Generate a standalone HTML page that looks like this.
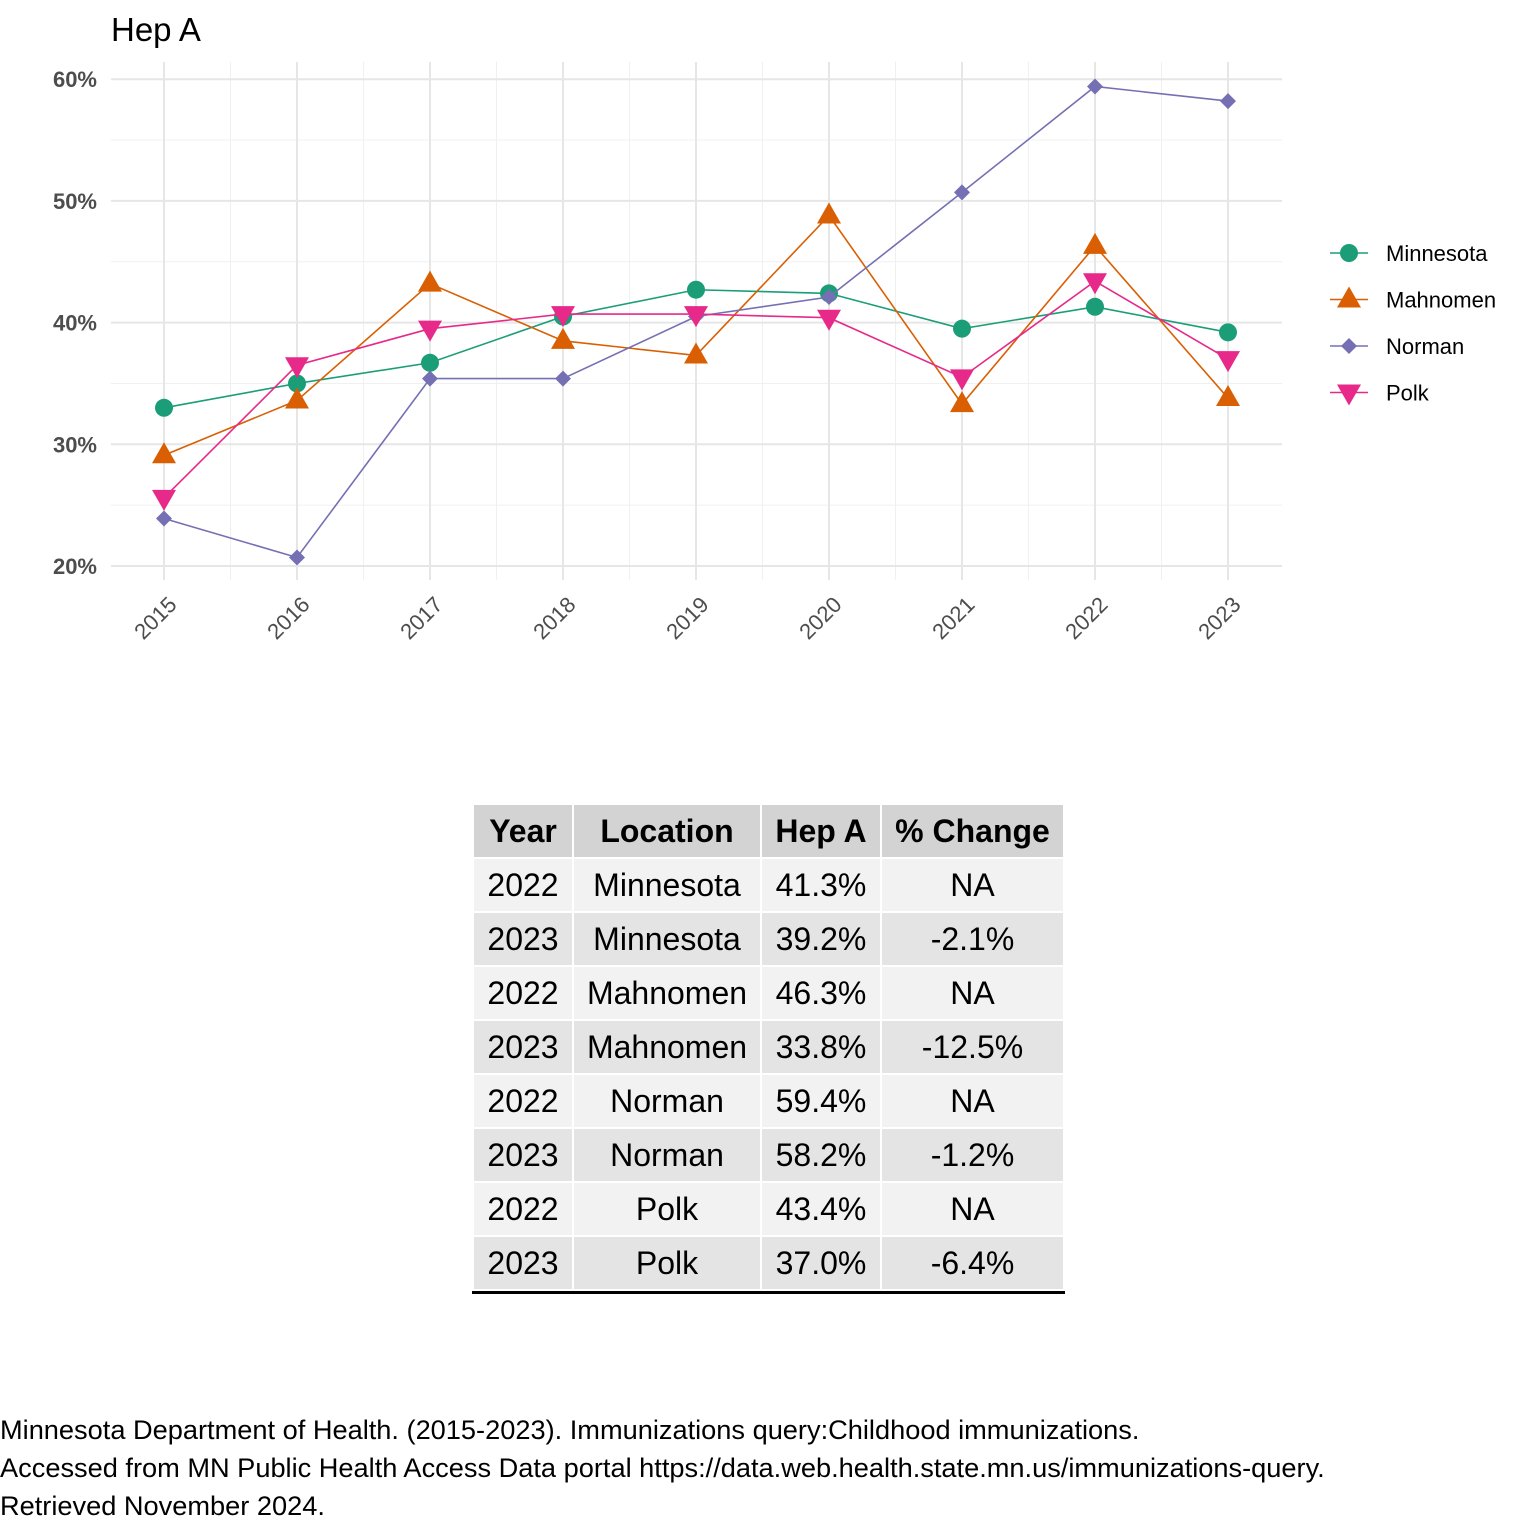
<!DOCTYPE html>
<html><head><meta charset="utf-8"><style>
body{margin:0;width:1536px;height:1536px;background:#fff;font-family:"Liberation Sans",Arial,sans-serif;position:relative;overflow:hidden}
#chart{position:absolute;left:0;top:0}
table{position:absolute;left:472px;top:803px;border-collapse:separate;border-spacing:2px 2px;font-size:32px;border-bottom:3px solid #000;table-layout:fixed}
td,th{height:52px;padding:0;text-align:center;white-space:nowrap;overflow:visible}
th{background:#d3d3d3;font-weight:bold}
tr.odd td{background:#f2f2f2}
tr.even td{background:#e4e4e4}
.foot{position:absolute;left:0;font-size:27.2px;color:#000}
</style></head><body>
<svg id="chart" width="1536" height="700"></svg>
<table>
<tr><th style="width:98px">Year</th><th style="width:186px">Location</th><th style="width:118px">Hep A</th><th style="width:181px">% Change</th></tr>
<tr class="odd"><td>2022</td><td>Minnesota</td><td>41.3%</td><td>NA</td></tr>
<tr class="even"><td>2023</td><td>Minnesota</td><td>39.2%</td><td>-2.1%</td></tr>
<tr class="odd"><td>2022</td><td>Mahnomen</td><td>46.3%</td><td>NA</td></tr>
<tr class="even"><td>2023</td><td>Mahnomen</td><td>33.8%</td><td>-12.5%</td></tr>
<tr class="odd"><td>2022</td><td>Norman</td><td>59.4%</td><td>NA</td></tr>
<tr class="even"><td>2023</td><td>Norman</td><td>58.2%</td><td>-1.2%</td></tr>
<tr class="odd"><td>2022</td><td>Polk</td><td>43.4%</td><td>NA</td></tr>
<tr class="even"><td>2023</td><td>Polk</td><td>37.0%</td><td>-6.4%</td></tr>
</table>
<div class="foot" style="top:1414px">Minnesota Department of Health. (2015-2023). Immunizations query:Childhood immunizations.</div>
<div class="foot" style="top:1452px">Accessed from MN Public Health Access Data portal https://data.web.health.state.mn.us/immunizations-query.</div>
<div class="foot" style="top:1490px">Retrieved November 2024.</div>
<script>
const years=[2015,2016,2017,2018,2019,2020,2021,2022,2023];
const yTicks=[20,30,40,50,60];
const minnesota=[33.0,35.0,36.7,40.5,42.7,42.4,39.5,41.3,39.2];
const mahnomen=[29.1,33.6,43.2,38.5,37.3,48.8,33.3,46.3,33.8];
const norman=[23.9,20.7,35.4,35.4,40.5,42.1,50.7,59.4,58.2];
const polk=[25.6,36.5,39.5,40.7,40.7,40.4,35.5,43.4,37.0];
const seriesNames=["Minnesota","Mahnomen","Norman","Polk"];
const NS="http://www.w3.org/2000/svg";
const svg=document.getElementById('chart');
const x=i=>164+i*133;
const y=v=>566-(v-20)*12.17;
function el(t,a,p){const e=document.createElementNS(NS,t);for(const k in a)e.setAttribute(k,a[k]);(p||svg).appendChild(e);return e;}
for(let v=25;v<=55;v+=10){const l=el('line',{x1:111,x2:1282,y1:y(v),y2:y(v),stroke:'#f0f0f0','stroke-width':1});}
for(let i=0;i<years.length-1;i++){const l=el('line',{x1:x(i+0.5),x2:x(i+0.5),y1:62,y2:580,stroke:'#f0f0f0','stroke-width':1});}
yTicks.forEach(v=>{const l=el('line',{x1:111,x2:1282,y1:y(v),y2:y(v),stroke:'#e6e6e6','stroke-width':2});
const t=el('text',{x:97,y:y(v)+8,'text-anchor':'end','font-size':22,'font-weight':'bold',fill:'#4d4d4d'});t.textContent=v+'%';});
years.forEach((yr,i)=>{const l=el('line',{x1:x(i),x2:x(i),y1:62,y2:580,stroke:'#e6e6e6','stroke-width':2});
const t=el('text',{x:x(i)+14,y:606,'text-anchor':'end','font-size':22,fill:'#4d4d4d',transform:`rotate(-45 ${x(i)+14} 606)`});t.textContent=yr;});
const title=el('text',{x:111,y:41,'font-size':33,fill:'#000'});title.textContent='Hep A';

const colors=['#1b9e77','#d95f02','#7570b3','#e7298a'];
const data=[minnesota,mahnomen,norman,polk];
function marker(k,cx,cy,g){
 if(k==0)return el('circle',{cx,cy,r:9,fill:colors[0]},g);
 if(k==1)return el('polygon',{points:`${cx},${cy-13} ${cx+12},${cy+8} ${cx-12},${cy+8}`,fill:colors[1]},g);
 if(k==2)return el('polygon',{points:`${cx},${cy-8} ${cx+8},${cy} ${cx},${cy+8} ${cx-8},${cy}`,fill:colors[2]},g);
 return el('polygon',{points:`${cx},${cy+13} ${cx+12},${cy-8} ${cx-12},${cy-8}`,fill:colors[3]},g);
}
data.forEach((arr,k)=>{
 const g=el('g',{});
 const p=el('polyline',{points:arr.map((v,i)=>x(i)+','+y(v)).join(' '),fill:'none',stroke:colors[k],'stroke-width':1.6},g);
 
 arr.forEach((v,i)=>{const m=marker(k,x(i),y(v),g);});
});
seriesNames.forEach((n,k)=>{
 const cy=253+k*46.5;
 const g=el('g',{});
 el('line',{x1:1330,x2:1368,y1:cy,y2:cy,stroke:colors[k],'stroke-width':1.6},g);
 marker(k,1349,cy,g);
 const t=el('text',{x:1386,y:cy+8,'font-size':22,fill:'#000'},g);t.textContent=n;
});
</script>
</body></html>
